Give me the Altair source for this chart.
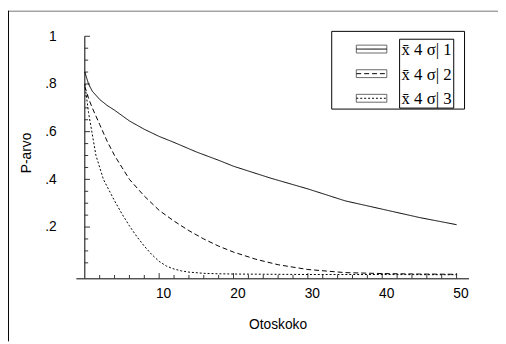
import altair as alt
import pandas as pd

# ---- data ----
s1_x = [0, 0.5, 1, 2, 3, 4, 6, 8, 10, 12, 15, 18, 20, 25, 30, 35, 40, 45, 50]
s1_y = [0.85, 0.80, 0.77, 0.735, 0.71, 0.69, 0.645, 0.61, 0.58, 0.555, 0.515, 0.48, 0.455, 0.405, 0.36, 0.31, 0.275, 0.24, 0.21]

s2_x = [0, 0.5, 1, 2, 3, 4, 5, 6, 8, 10, 12, 14, 16, 18, 20, 23, 26, 30, 35, 40, 45, 50]
s2_y = [0.79, 0.74, 0.70, 0.63, 0.56, 0.50, 0.45, 0.40, 0.33, 0.27, 0.225, 0.185, 0.15, 0.12, 0.095, 0.065, 0.042, 0.022, 0.009, 0.005, 0.003, 0.002]

s3_x = [0, 0.5, 1, 1.5, 2, 2.5, 3, 4, 5, 6, 7, 8, 9, 10, 11, 12, 13, 14, 16, 18, 20, 25, 30, 40, 50]
s3_y = [0.80, 0.68, 0.59, 0.50, 0.45, 0.40, 0.37, 0.31, 0.255, 0.205, 0.16, 0.12, 0.085, 0.056, 0.036, 0.024, 0.016, 0.011, 0.006, 0.004, 0.003, 0.002, 0.001, 0.001, 0.0]

series_names = ["x\u0304 4 \u03c3| 1", "x\u0304 4 \u03c3| 2", "x\u0304 4 \u03c3| 3"]
series_dash = [[1, 0], [5, 3], [2, 2]]

x_tick_values = [10, 20, 30, 40, 50]
x_minor_ticks = list(range(2, 51, 2))
y_tick_values = [0.2, 0.4, 0.6, 0.8, 1.0]
y_tick_labels = [".2", ".4", ".6", ".8", "1"]
y_minor_ticks = [round(0.05 * i, 2) for i in range(1, 21)]

x_domain = [-1.2, 51.6]
y_domain = [-0.015, 1.0]

rows = []
for name, xv, yv in zip(series_names, [s1_x, s2_x, s3_x], [s1_y, s2_y, s3_y]):
    for a, b in zip(xv, yv):
        rows.append({"x": a, "y": b, "series": name})
df = pd.DataFrame(rows)

xs = alt.Scale(domain=x_domain, nice=False, zero=False)
ys = alt.Scale(domain=y_domain, nice=False, zero=False)

# label expression from the tick label list
expr = "''"
for v, lab in zip(y_tick_values, y_tick_labels):
    expr = f"abs(datum.value - {v}) < 0.001 ? '{lab}' : ({expr})"

FONT = "Liberation Sans"

x_axis = alt.Axis(
    values=x_tick_values, title="Otoskoko", ticks=False, domain=True,
    domainColor="black", domainWidth=1, grid=False,
    labelFont=FONT, labelFontSize=14, labelColor="black",
    labelOffset=4, labelPadding=8, labelBaseline="top",
    titleFont=FONT, titleFontSize=14, titleFontWeight="normal", titleColor="black",
    titleX=205, titleY=51, titleBaseline="alphabetic", titleAlign="center")
y_axis = alt.Axis(
    values=y_tick_values, labelExpr=expr, title="P-arvo", ticks=False,
    domain=False, grid=False, labelFont=FONT, labelFontSize=14,
    labelColor="black", labelPadding=20,
    titleFont=FONT, titleFontSize=14, titleFontWeight="normal", titleColor="black",
    titleAngle=270, titleX=-50, titleY=118, titleBaseline="middle", titleAlign="center")

lines = alt.Chart(df).mark_line(color="black", strokeWidth=1).encode(
    x=alt.X("x:Q", scale=xs, axis=x_axis),
    y=alt.Y("y:Q", scale=ys, axis=y_axis),
    strokeDash=alt.StrokeDash("series:N", scale=alt.Scale(domain=series_names, range=series_dash), legend=None),
    detail="series:N",
)

# y axis line at x = 0
yaxis_df = pd.DataFrame({"x": [0], "y": [y_domain[0]], "y2": [y_domain[1]]})
yaxis = alt.Chart(yaxis_df).mark_rule(color="black", strokeWidth=1).encode(
    x=alt.X("x:Q", scale=xs, axis=x_axis),
    y=alt.Y("y:Q", scale=ys, axis=y_axis),
    y2="y2:Q",
)

# y ticks (pointing right, inside)
yt = pd.DataFrame({
    "y": y_minor_ticks,
    "x": [0] * len(y_minor_ticks),
    "x2": [0.7 if any(abs(v - t) < 1e-6 for t in y_tick_values) else 0.45 for v in y_minor_ticks],
})
yticks = alt.Chart(yt).mark_rule(color="black", strokeWidth=0.8).encode(
    x=alt.X("x:Q", scale=xs, axis=x_axis), x2="x2:Q",
    y=alt.Y("y:Q", scale=ys, axis=y_axis),
)

# x ticks (pointing up)
xt = pd.DataFrame({
    "x": x_minor_ticks,
    "y": [y_domain[0]] * len(x_minor_ticks),
    "y2": [y_domain[0] + (0.022 if v in x_tick_values else 0.014) for v in x_minor_ticks],
})
xticks = alt.Chart(xt).mark_rule(color="black", strokeWidth=0.8).encode(
    x=alt.X("x:Q", scale=xs, axis=x_axis),
    y=alt.Y("y:Q", scale=ys, axis=y_axis), y2="y2:Q",
)

# ---- legend (drawn by hand) ----
one = pd.DataFrame({"a": [0]})
legend_layers = [
    alt.Chart(one).mark_rect(fill="white", stroke="black", strokeWidth=1).encode(
        x=alt.value(260), x2=alt.value(395), y=alt.value(-5), y2=alt.value(74)),
    alt.Chart(one).mark_rect(fill="white", stroke="black", strokeWidth=1).encode(
        x=alt.value(329), x2=alt.value(384), y=alt.value(3), y2=alt.value(73)),
]
row_y = [13, 38, 63]
for name, dash, ry in zip(series_names, series_dash, row_y):
    legend_layers.append(
        alt.Chart(one).mark_rect(fill="white", stroke="#444", strokeWidth=0.8).encode(
            x=alt.value(285), x2=alt.value(316), y=alt.value(ry - 4), y2=alt.value(ry + 4)))
    legend_layers.append(
        alt.Chart(one).mark_rule(color="black", strokeWidth=1, strokeDash=dash).encode(
            x=alt.value(285), x2=alt.value(316), y=alt.value(ry)))
    legend_layers.append(
        alt.Chart(one).mark_text(text=name, font="Liberation Serif", fontSize=17,
                                 align="left", baseline="middle", color="black").encode(
            x=alt.value(331), y=alt.value(ry + 1)))

# ---- outer frame (top and left edges visible) ----
frame = [
    alt.Chart(one).mark_rule(color="#777", strokeWidth=1).encode(
        x=alt.value(-69), x2=alt.value(429), y=alt.value(-25.5)),
    alt.Chart(one).mark_rule(color="black", strokeWidth=1).encode(
        x=alt.value(-68.5), y=alt.value(-26), y2=alt.value(310)),
]

chart = alt.layer(lines, yaxis, yticks, xticks, *legend_layers, *frame).properties(
    width=399, height=246,
    autosize=alt.AutoSizeParams(type="none"),
    padding={"left": 69, "top": 26, "right": 30, "bottom": 64},
    background="white",
).configure_view(stroke=None)

chart.save("out.html", embed_options={"renderer": "svg", "actions": False})
